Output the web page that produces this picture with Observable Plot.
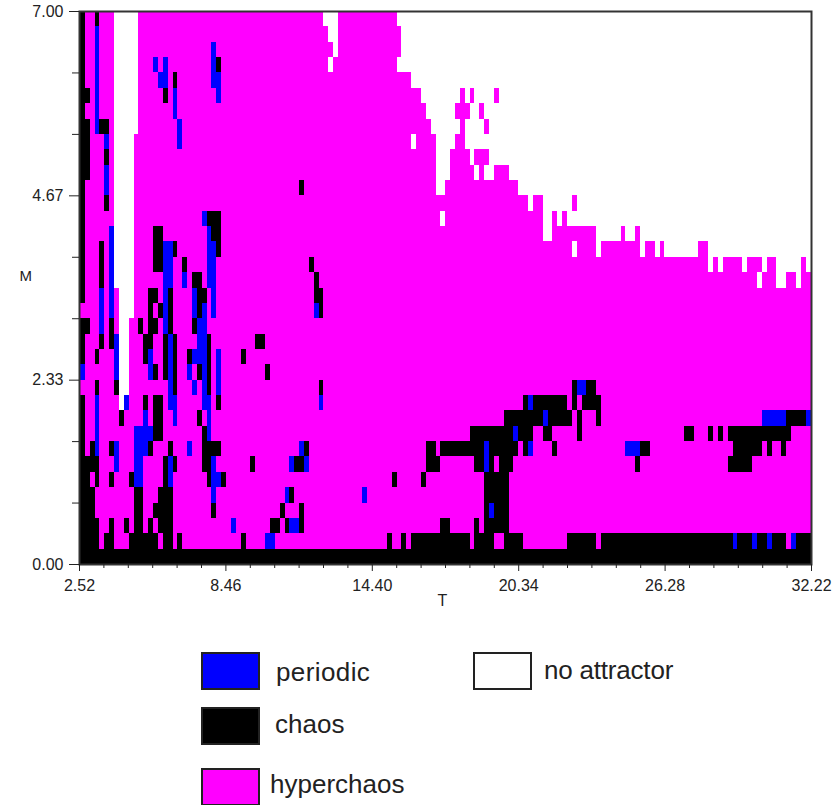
<!DOCTYPE html>
<html>
<head>
<meta charset="utf-8">
<script src="https://cdn.jsdelivr.net/npm/d3@7"></script>
<script src="https://cdn.jsdelivr.net/npm/@observablehq/plot@0.6"></script>
<style>
html,body{margin:0;padding:0;background:#fff;overflow:hidden;font-family:"Liberation Sans",Arial,sans-serif;}
#wrap{position:relative;width:833px;height:805px;overflow:hidden;}
#wrap svg{position:absolute;left:0;top:0;}
.sw{position:absolute;box-sizing:border-box;width:59px;height:38px;border:2px solid #222;}
.lb{position:absolute;font-size:26px;line-height:30px;color:#222;white-space:nowrap;}
</style>
</head>
<body>
<div id="wrap"></div>
<script>
// Parameter grid of the map: 150 T columns, 36 M rows
const columnCount = 150;
const rowCount = 36;
const tStart = 2.56;
const tStep = 0.1976;
const mTop = 7;
const mStep = 7 / 36;

const states = ["periodic", "chaos", "hyperchaos", "no attractor"];
const stateColors = ["#0000ff", "#000000", "#ff00ff", "#ffffff"];

// Everything not listed below is hyperchaos. Each run: [row from top, first column, last column]
const noAttractorRuns = [
  [0,7,11],[0,50,52],[0,65,149],
  [1,7,11],[1,51,52],[1,66,149],
  [2,7,11],[2,52,52],[2,66,149],
  [3,7,11],[3,51,51],[3,65,149],
  [4,7,11],[4,68,149],
  [5,7,11],[5,70,77],[5,79,79],[5,81,84],[5,86,149],
  [6,7,11],[6,71,76],[6,80,81],[6,83,149],
  [7,7,11],[7,72,77],[7,79,82],[7,84,149],
  [8,7,10],[8,68,68],[8,73,76],[8,79,149],
  [9,7,10],[9,73,75],[9,80,80],[9,84,149],
  [10,7,10],[10,73,75],[10,81,81],[10,83,84],[10,88,149],
  [11,7,10],[11,73,74],[11,90,149],
  [12,7,10],[12,92,92],[12,95,100],[12,102,149],
  [13,7,10],[13,74,74],[13,95,96],[13,98,98],[13,100,149],
  [14,7,10],[14,95,96],[14,106,110],[14,112,113],[14,115,149],
  [15,7,10],[15,101,101],[15,106,106],[15,115,115],[15,118,118],[15,120,126],[15,129,149],
  [16,7,10],[16,129,129],[16,131,131],[16,136,136],[16,140,140],[16,143,147],[16,149,149],
  [17,7,10],[17,139,139],[17,143,144],[17,147,147],
  [18,8,10],[19,8,10],
  [20,8,9],[21,8,9],[22,8,9],[23,8,9],[24,8,9],
  [25,8,8]
];

const chaosRuns = [
  [0,0,0],[0,3,3],
  [1,0,0],[2,0,0],
  [3,0,0],[3,28,28],
  [4,0,0],[4,19,19],
  [5,0,1],[5,17,17],
  [6,0,0],
  [7,0,1],[7,4,5],
  [8,0,1],
  [9,0,1],[9,5,5],
  [10,0,1],
  [11,0,0],[11,45,45],
  [12,0,0],[12,5,5],
  [13,0,0],[13,26,28],
  [14,0,0],[14,15,16],[14,27,28],
  [15,0,0],[15,4,4],[15,15,16],[15,19,19],[15,28,28],
  [16,0,0],[16,4,4],[16,15,16],[16,21,21],[16,47,47],
  [17,0,0],[17,4,4],[17,23,24],[17,48,48],
  [18,0,0],[18,14,15],[18,18,18],[18,24,25],[18,48,49],
  [19,14,14],[19,16,16],[19,18,18],[19,24,24],[19,49,49],
  [20,0,1],[20,6,6],[20,12,12],[20,14,15],[20,18,18],[20,23,23],
  [21,0,0],[21,4,4],[21,6,6],[21,13,14],[21,17,17],[21,19,19],[21,26,26],[21,36,37],
  [22,0,0],[22,3,3],[22,13,13],[22,17,17],[22,19,19],[22,22,22],[22,26,26],[22,33,33],
  [23,15,15],[23,17,17],[23,19,19],[23,24,24],[23,26,26],[23,38,38],
  [24,3,3],[24,7,7],[24,19,19],[24,26,26],[24,49,49],[24,101,101],[24,104,105],
  [25,0,0],[25,13,13],[25,15,16],[25,28,28],[25,91,91],[25,93,99],[25,101,101],[25,103,106],
  [26,0,0],[26,8,8],[26,15,16],[26,24,24],[26,87,100],[26,102,102],[26,106,106],[26,145,148],
  [27,0,0],[27,15,16],[27,25,25],[27,80,92],[27,95,96],[27,102,102],[27,124,125],[27,129,129],[27,131,131],[27,133,145],
  [28,0,0],[28,2,2],[28,6,6],[28,14,14],[28,18,18],[28,25,28],[28,46,46],[28,71,72],[28,74,89],[28,91,91],[28,97,97],[28,115,116],[28,134,139],[28,141,141],[28,144,144],
  [29,0,3],[29,17,17],[29,19,19],[29,25,26],[29,35,35],[29,44,45],[29,71,73],[29,81,82],[29,84,84],[29,86,88],[29,114,114],[29,133,137],
  [30,0,1],[30,3,3],[30,6,6],[30,10,10],[30,17,17],[30,26,26],[30,29,29],[30,64,64],[30,70,70],[30,83,87],
  [31,0,2],[31,11,12],[31,16,18],[31,43,43],[31,83,87],
  [32,0,2],[32,11,12],[32,15,18],[32,27,27],[32,41,41],[32,45,45],[32,83,83],[32,85,87],
  [33,0,3],[33,6,6],[33,9,9],[33,11,12],[33,14,14],[33,16,18],[33,39,40],[33,42,42],[33,45,45],[33,74,75],[33,81,81],[33,83,87],
  [34,0,3],[34,5,6],[34,10,15],[34,17,18],[34,20,20],[34,33,33],[34,63,63],[34,66,66],[34,68,79],[34,81,84],[34,87,90],[34,100,105],[34,107,144],[34,147,149],
  [35,0,149]
];

const periodicRuns = [
  [1,3,3],[2,3,3],[2,27,27],
  [3,3,3],[3,15,15],[3,17,17],[3,27,27],
  [4,3,3],[4,16,17],[4,27,28],
  [5,3,3],[5,19,19],[5,28,28],
  [6,3,3],[6,19,19],
  [7,3,3],[7,20,20],
  [8,5,5],[8,20,20],
  [10,5,5],[11,5,5],
  [13,25,25],
  [14,6,6],[14,26,26],
  [15,6,6],[15,17,18],[15,26,27],
  [16,6,6],[16,17,18],[16,26,27],
  [17,6,6],[17,17,18],[17,21,21],[17,26,27],
  [18,4,4],[18,6,6],[18,17,17],[18,23,23],[18,27,27],
  [19,4,4],[19,6,6],[19,17,17],[19,23,23],[19,25,25],[19,27,27],[19,48,48],
  [20,4,4],[20,17,17],[20,24,25],
  [21,7,7],[21,18,18],[21,24,25],
  [22,7,7],[22,14,14],[22,18,18],[22,23,25],[22,28,28],
  [23,0,0],[23,7,7],[23,14,14],[23,18,18],[23,22,22],[23,25,25],[23,28,28],
  [24,18,18],[24,23,23],[24,25,25],[24,28,28],[24,102,103],
  [25,3,3],[25,9,9],[25,18,19],[25,25,26],[25,49,49],[25,92,92],
  [26,3,3],[26,13,13],[26,19,19],[26,26,26],[26,95,95],[26,140,144],[26,149,149],
  [27,3,3],[27,11,14],[27,26,26],[27,89,89],
  [28,3,3],[28,7,7],[28,11,13],[28,22,22],[28,45,45],[28,83,83],[28,92,92],[28,112,114],
  [29,7,7],[29,11,12],[29,18,18],[29,27,27],[29,43,43],[29,46,46],[29,83,83],
  [30,11,12],[30,18,18],[30,27,28],
  [31,27,27],[31,42,42],[31,58,58],
  [32,84,84],
  [33,31,31],[33,43,44],
  [34,38,39],[34,134,134],[34,138,138],[34,141,141],[34,146,146]
];

// Axis ticks
const tMajorTicks = [2.52, 8.46, 14.40, 20.34, 26.28, 32.22];
const tMinorTicks = [3.51, 4.50, 5.49, 6.48, 7.47, 9.45, 10.44, 11.43, 12.42, 13.41, 15.39, 16.38, 17.37, 18.36, 19.35, 21.33, 22.32, 23.31, 24.30, 25.29, 27.27, 28.26, 29.25, 30.24, 31.23];
const mMajorTicks = [0, 2.3333, 4.6667, 7];
const mMinorTicks = [0.7778, 1.5556, 3.1111, 3.8889, 5.4444, 6.2222];

const grid = d3.range(rowCount).map(() => new Array(columnCount).fill("hyperchaos"));
const paint = (runs, state) => runs.forEach(([r, a, b]) => { for (let k = a; k <= b; k++) grid[r][k] = state; });
paint(noAttractorRuns, "no attractor");
paint(chaosRuns, "chaos");
paint(periodicRuns, "periodic");

const cells = [];
grid.forEach((row, r) => row.forEach((state, k) => cells.push({
  t1: tStart + k * tStep, t2: tStart + (k + 1) * tStep,
  m1: mTop - r * mStep, m2: mTop - (r + 1) * mStep, state
})));

const axisColor = "#222";
const chart = Plot.plot({
  width: 833,
  height: 625,
  marginLeft: 79,
  marginRight: 22,
  marginTop: 11,
  marginBottom: 61,
  style: {fontFamily: '"Liberation Sans", Arial, sans-serif', background: "transparent", color: "#222"},
  x: {domain: [2.52, 32.22]},
  y: {domain: [0, 7]},
  color: {domain: states, range: stateColors},
  marks: [
    Plot.rect(cells, {x1: "t1", x2: "t2", y1: "m1", y2: "m2", fill: "state", shapeRendering: "crispEdges"}),
    Plot.frame({stroke: "#333", strokeWidth: 2}),
    Plot.axisX({ticks: tMajorTicks, tickSize: 7, tickPadding: 8, fontSize: 16, tickFormat: d3.format(".2f"), label: null, stroke: axisColor}),
    Plot.axisX({ticks: tMinorTicks, tickSize: 4, tickFormat: () => "", label: null, stroke: axisColor}),
    Plot.axisY({ticks: mMajorTicks, tickSize: 10, tickPadding: 6, fontSize: 16, tickFormat: d3.format(".2f"), label: null, stroke: axisColor}),
    Plot.axisY({ticks: mMinorTicks, tickSize: 7, tickFormat: () => "", label: null, stroke: axisColor}),
    Plot.text(["T"], {frameAnchor: "bottom", dx: -3, dy: 41, fontSize: 16, fill: "#222"}),
    Plot.text(["M"], {frameAnchor: "left", dx: -60, dy: -12, fontSize: 15, fill: "#222"})
  ]
});

const wrap = document.getElementById("wrap");
wrap.appendChild(chart);

const legendEntries = [
  {label: "periodic", color: stateColors[0], sx: 201, sy: 652, tx: 276, ty: 657, spacing: 0.4},
  {label: "chaos", color: stateColors[1], sx: 201, sy: 707, tx: 275, ty: 709, spacing: 0},
  {label: "hyperchaos", color: stateColors[2], sx: 201, sy: 768, tx: 270, ty: 769, spacing: 0},
  {label: "no attractor", color: stateColors[3], sx: 473, sy: 652, tx: 544, ty: 655, spacing: -0.2}
];
legendEntries.forEach(e => {
  const s = document.createElement("div");
  s.className = "sw";
  s.style.cssText = `left:${e.sx}px;top:${e.sy}px;background:${e.color}`;
  wrap.appendChild(s);
  const l = document.createElement("div");
  l.className = "lb";
  l.style.cssText = `left:${e.tx}px;top:${e.ty}px;letter-spacing:${e.spacing}px`;
  l.textContent = e.label;
  wrap.appendChild(l);
});
</script>
</body>
</html>
